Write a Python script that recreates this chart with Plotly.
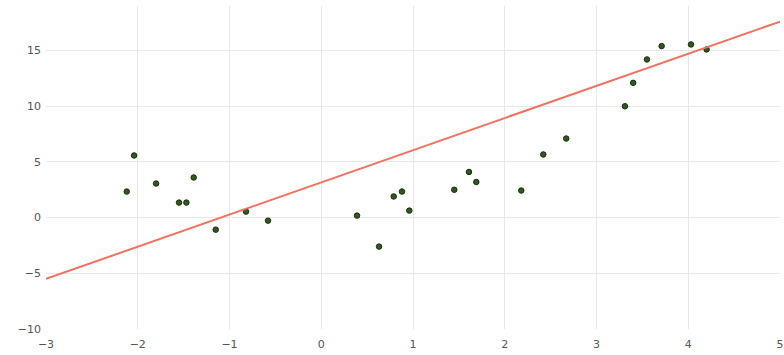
import plotly.graph_objects as go

x_pts = [-2.12, -2.04, -1.80, -1.55, -1.47, -1.39, -1.15, -0.82, -0.58,
         0.39, 0.63, 0.79, 0.88, 0.96, 1.45, 1.61, 1.69, 2.18, 2.42, 2.67,
         3.31, 3.40, 3.55, 3.71, 4.03, 4.20]
y_pts = [2.34, 5.58, 3.06, 1.35, 1.35, 3.6, -1.08, 0.54, -0.27,
         0.18, -2.6, 1.9, 2.34, 0.63, 2.5, 4.1, 3.2, 2.43, 5.67, 7.1,
         10.0, 12.1, 14.2, 15.4, 15.55, 15.1]
line_x = [-3, 5]
line_y = [-5.5, 17.6]

fig = go.Figure()
fig.add_trace(go.Scatter(x=x_pts, y=y_pts, mode="markers",
                         marker=dict(size=5.5, color="#2f5a1c",
                                     line=dict(color="#1a2a10", width=1)),
                         showlegend=False))
fig.add_trace(go.Scatter(x=line_x, y=line_y, mode="lines",
                         line=dict(color="#f2705e", width=2),
                         showlegend=False))
fig.update_layout(
    width=784, height=355,
    margin=dict(l=46, r=4, t=6, b=26, autoexpand=False),
    paper_bgcolor="white", plot_bgcolor="white",
    font=dict(family="DejaVu Sans", size=11, color="#555555"),
)
fig.update_xaxes(range=[-3, 5], dtick=1, showgrid=True, gridcolor="#e8e8e8",
                 zeroline=False, showline=False, ticks="", automargin=False,
                 ticklabelstandoff=7)
fig.update_yaxes(range=[-10, 19], tickvals=[-10, -5, 0, 5, 10, 15], showgrid=True,
                 gridcolor="#e8e8e8", zeroline=False, showline=False, ticks="",
                 automargin=False, ticklabelstandoff=4)
fig.write_html("out.html", config={"displayModeBar": False},
               post_script="document.body.style.margin='0';")
